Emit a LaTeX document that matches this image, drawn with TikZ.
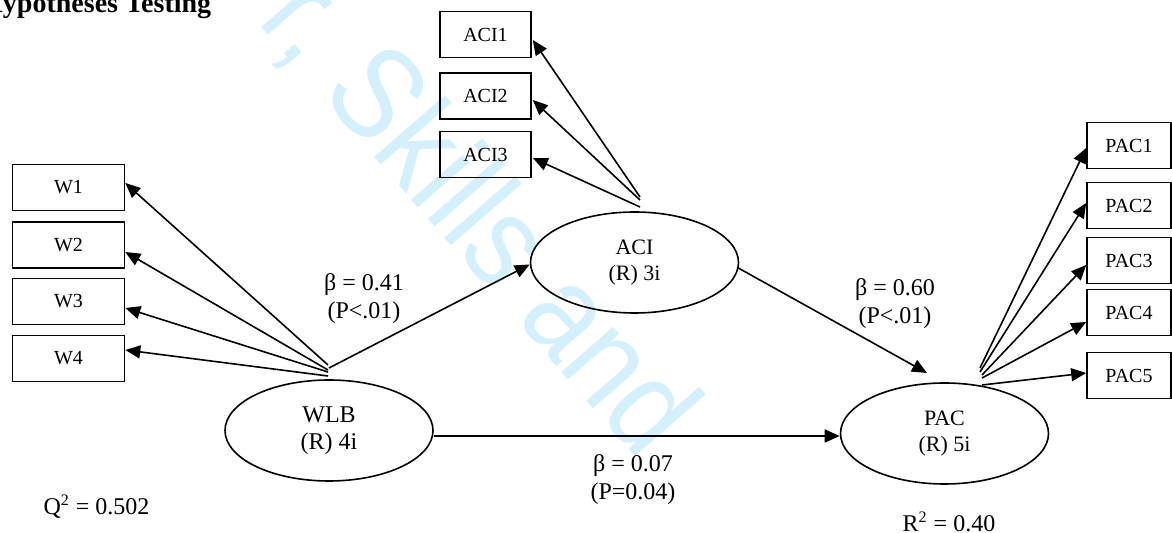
\documentclass[tikz,border=0pt]{standalone}
\usepackage{fontspec}
\setmainfont{Liberation Serif}
\newfontfamily\markfont[FakeStretch=0.88]{Liberation Sans}
\usetikzlibrary{arrows.meta,shapes,calc}
\definecolor{markblue}{RGB}{212,240,252}

\begin{document}
\begin{tikzpicture}[x=0.5pt,y=-0.5pt,->,>={Triangle[length=7.5pt,width=6.5pt]},
                    line width=0.8pt,
                    ind/.style={draw,rectangle,minimum height=23pt,inner sep=0pt,
                                font=\fontsize{10}{12}\selectfont},
                    lat/.style={draw,ellipse,minimum width=104pt,minimum height=50.5pt,
                                inner sep=0pt,align=center,font=\fontsize{11}{13}\selectfont},
                    coef/.style={align=center,inner sep=0pt,font=\fontsize{12}{14}\selectfont}]

  \useasboundingbox (0,0) rectangle (1172,533);

  % watermark and title
  \node[anchor=base west,inner sep=0pt,rotate=-49,text=markblue,
        font=\markfont\fontsize{65}{70}\selectfont] (mark) at (256,21) {r, Skills and};
  \node[anchor=base east,inner sep=0pt,font=\bfseries\fontsize{14}{16}\selectfont]
        (title) at (212,13) {Hypotheses Testing};

  % constructs
  \node[lat,font=\fontsize{12}{13.5}\selectfont] (WLB) at (329,430.5) {WLB\\(R) 4i};
  \node[lat] (ACI) at (634.5,262.5) {ACI\\(R) 3i};
  \node[lat] (PAC) at (944.5,433.5) {PAC\\(R) 5i};

  % items
  \node[ind,minimum width=56pt] (W1) at (68.5,187.5) {W1};
  \node[ind,minimum width=56pt] (W2) at (68.5,245)   {W2};
  \node[ind,minimum width=56pt] (W3) at (68.5,301.5) {W3};
  \node[ind,minimum width=56pt] (W4) at (68.5,358.5) {W4};

  \node[ind,minimum width=45.5pt] (ACI1) at (485.5,34.5)  {ACI1};
  \node[ind,minimum width=45.5pt] (ACI2) at (485.5,96)    {ACI2};
  \node[ind,minimum width=45.5pt] (ACI3) at (485.5,154.5) {ACI3};

  \node[ind,minimum width=42pt] (PAC1) at (1129,145.5) {PAC1};
  \node[ind,minimum width=42pt] (PAC2) at (1129,205.5) {PAC2};
  \node[ind,minimum width=42pt] (PAC3) at (1129,260.5) {PAC3};
  \node[ind,minimum width=42pt] (PAC4) at (1129,312.5) {PAC4};
  \node[ind,minimum width=42pt] (PAC5) at (1129,375.5) {PAC5};

  % where the loadings start
  \coordinate (wlb0) at (329,368);
  \coordinate (wlb1) at (328,365);
  \coordinate (wlb2) at (328,370);
  \coordinate (wlb3) at (328,372);
  \coordinate (wlb4) at (328,376);
  \coordinate (aci1) at (640,197);
  \coordinate (aci2) at (640,200);
  \coordinate (aci3) at (640,207);
  \coordinate (pac1) at (980,368);
  \coordinate (pac2) at (980,372);
  \coordinate (pac3) at (982,375);
  \coordinate (pac4) at (982,378);
  \coordinate (pac5) at (982,385);
  \coordinate (pacin) at (927,373);

  % loadings
  \draw (wlb1) -- ($(W1.east)+(0,-4.5)$);
  \draw (wlb2) -- ($(W2.east)+(0,7)$);
  \draw (wlb3) -- ($(W3.east)+(0,6.5)$);
  \draw (wlb4) -- ($(W4.east)+(0,-8.5)$);

  \draw (aci1) -- ($(ACI1.east)+(1,5.5)$);
  \draw (aci2) -- ($(ACI2.east)+(1,4)$);
  \draw (aci3) -- ($(ACI3.east)+(1,3.5)$);

  \draw (pac1) -- ($(PAC1.west)+(0,2.5)$);
  \draw (pac2) -- ($(PAC2.west)+(0,-2.5)$);
  \draw (pac3) -- ($(PAC3.west)+(0,4.5)$);
  \draw (pac4) -- ($(PAC4.west)+(0,9.5)$);
  \draw (pac5) -- ($(PAC5.west)+(0,-2.5)$);

  % paths
  \draw (wlb0) -- ($(ACI.west)+(0,2)$);
  \draw ($(ACI.east)+(-1,5.5)$) -- (pacin);
  \draw ($(WLB.east)+(0,5.5)$) -- ($(PAC.west)+(0,2.5)$);

  \node[coef] (b41) at (364,299)   {β = 0.41\\(P<.01)};
  \node[coef] (b60) at (895,303.5) {β = 0.60\\(P<.01)};
  \node[coef] (b07) at (633,480)   {β = 0.07\\(P=0.04)};
  \node[coef] (q2)  at (96.5,507)  {Q\textsuperscript{2} = 0.502};
  \node[coef] (r2)  at (949,522)   {R\textsuperscript{2} = 0.40};
\end{tikzpicture}
\end{document}
